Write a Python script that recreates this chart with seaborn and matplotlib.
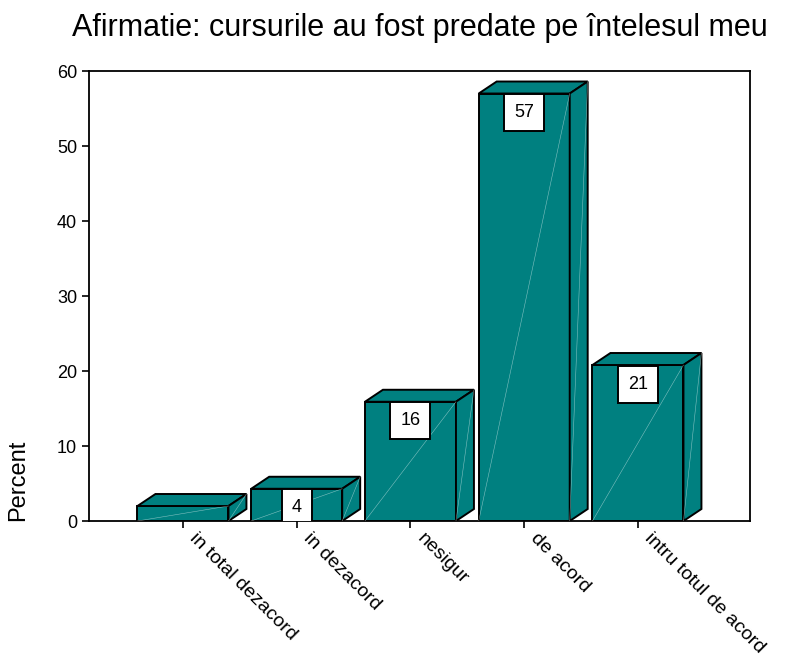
import numpy as np
import pandas as pd
import matplotlib
matplotlib.use("Agg")
import matplotlib.pyplot as plt
import matplotlib.transforms as mtransforms
from matplotlib.patches import Polygon
import seaborn as sns

# data
categories = ['in total dezacord', 'in dezacord', 'nesigur', 'de acord', 'intru totul de acord']
percent = [2.0, 4.3, 15.9, 57.0, 20.8]
labels = ['', '4', '16', '57', '21']

df = pd.DataFrame({'Category': categories, 'Percent': percent})

sns.set_style('white')
plt.rcParams['font.family'] = ['Liberation Sans', 'DejaVu Sans']
plt.rcParams['text.color'] = 'black'
plt.rcParams['axes.labelcolor'] = 'black'
plt.rcParams['xtick.color'] = 'black'
plt.rcParams['ytick.color'] = 'black'

teal = '#008080'
lw = 1.4
fig = plt.figure(figsize=(7.87, 6.6), dpi=100)
ax = fig.add_axes([0.1131, 0.2106, 0.8399, 0.6818])

sns.barplot(data=df, x='Category', y='Percent', color=teal, saturation=1,
            width=0.8, edgecolor='black', linewidth=lw, ax=ax, zorder=3)

# fake 3D depth: top and side faces
dx, dy = 0.158, 1.6
pad = 0.55
fs = 13
for i, bar in enumerate(ax.patches):
    x0 = bar.get_x()
    w = bar.get_width()
    h = bar.get_height()
    top = Polygon([(x0, h), (x0 + dx, h + dy), (x0 + w + dx, h + dy), (x0 + w, h)],
                  closed=True, facecolor=teal, edgecolor='black', linewidth=lw, zorder=3)
    side = Polygon([(x0 + w, 0), (x0 + w + dx, dy), (x0 + w + dx, h + dy), (x0 + w, h)],
                   closed=True, facecolor=teal, edgecolor='black', linewidth=lw, zorder=3)
    ax.add_patch(top)
    ax.add_patch(side)
    # faint shading lines
    ax.plot([x0, x0 + w], [0, h], color='white', lw=0.4, alpha=0.5, zorder=3.5)
    ax.plot([x0 + w, x0 + w + dx], [0, h + dy], color='white', lw=0.4, alpha=0.5, zorder=3.5)
    if labels[i]:
        ax.annotate(labels[i], xy=(x0 + w / 2, h), xytext=(0, -pad * fs - 0.5),
                    textcoords='offset points', ha='center', va='top', fontsize=fs,
                    zorder=5, annotation_clip=True, clip_on=True,
                    bbox=dict(boxstyle=f'square,pad={pad}', facecolor='white',
                              edgecolor='black', linewidth=lw))

ax.set_xlim(-0.826, 4.985)
ax.set_ylim(0, 60)
ax.set_yticks([0, 10, 20, 30, 40, 50, 60])
tick_pos = np.arange(len(categories))
ax.set_xticks(tick_pos)
ax.set_xticklabels([])
# rotated category labels, drawn by hand so they can be nudged right of the tick
shift = mtransforms.ScaledTranslation(15 / 100, -9 / 100, fig.dpi_scale_trans)
lab_tr = mtransforms.blended_transform_factory(ax.transData, ax.transAxes) + shift
for xp, cat in zip(tick_pos, categories):
    ax.text(xp, 0, cat, transform=lab_tr, rotation=-45, ha='left', va='top',
            rotation_mode='anchor', fontsize=14, clip_on=False)
ax.tick_params(axis='y', labelsize=13, length=5, width=1.2, direction='out', left=True)
ax.tick_params(axis='x', length=5, width=1.2, direction='out', bottom=True)
for s in ax.spines.values():
    s.set_visible(True)
    s.set_color('black')
    s.set_linewidth(1.3)

ax.set_xlabel('')
ax.set_ylabel('Percent', fontsize=17)
ax.yaxis.set_label_coords(-0.09, 0.09)
ax.set_title('Afirmatie: cursurile au fost predate pe întelesul meu', fontsize=22, pad=25)

fig.savefig('out.png', dpi=100)
